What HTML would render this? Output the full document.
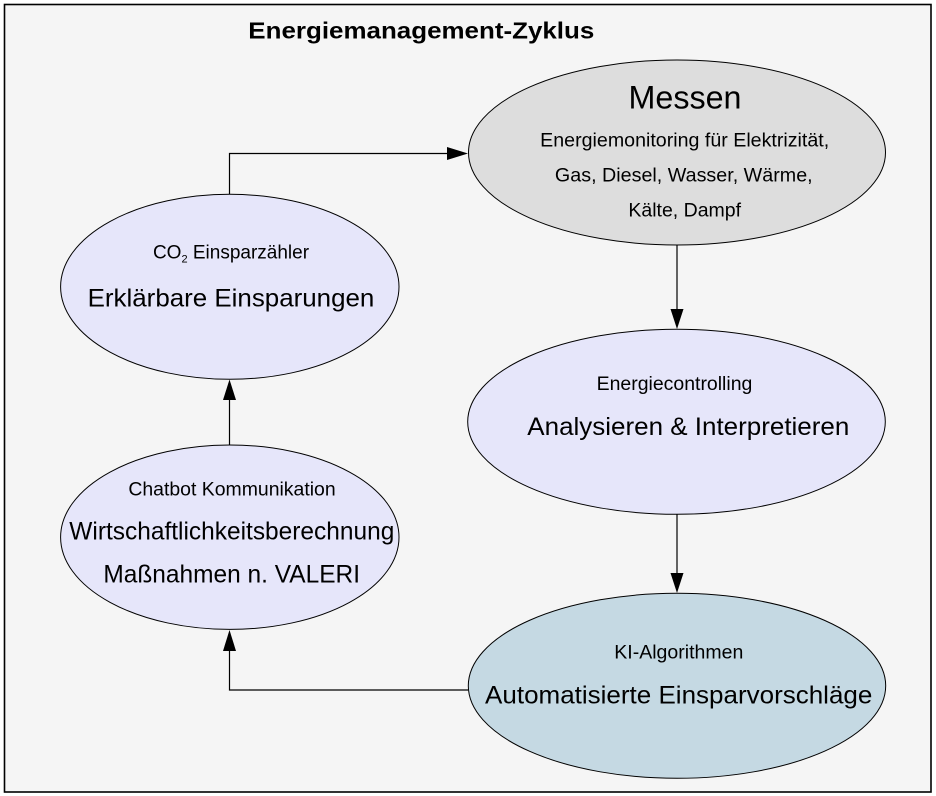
<!DOCTYPE html>
<html>
<head>
<meta charset="utf-8">
<style>
  html, body { margin: 0; padding: 0; background: #ffffff; }
  svg { display: block; }
  text { font-family: "Liberation Sans", Arial, sans-serif; fill: #000; }
</style>
</head>
<body>
<svg width="936" height="796" viewBox="0 0 936 796" xmlns="http://www.w3.org/2000/svg">
  <rect x="0" y="0" width="936" height="796" fill="#ffffff"/>
  <rect x="4.5" y="4.5" width="926.5" height="787.5" fill="#f5f5f5" stroke="#000" stroke-width="1.6"/>

  <!-- Title -->
  <text x="421.3" y="38.3" text-anchor="middle" font-size="23" font-weight="bold" textLength="346" lengthAdjust="spacingAndGlyphs">Energiemanagement-Zyklus</text>

  <!-- Connectors -->
  <g stroke="#000" stroke-width="1.2" fill="none">
    <polyline points="229.5,194 229.5,153.5 449,153.5"/>
    <line x1="677" y1="245" x2="677" y2="310"/>
    <line x1="677" y1="514" x2="677" y2="574"/>
    <polyline points="468,690 229.5,690 229.5,650"/>
    <line x1="229.5" y1="445" x2="229.5" y2="399"/>
  </g>
  <g fill="#000">
    <polygon points="468,153.5 447,147 447,160"/>
    <polygon points="677,329 670.5,309 683.5,309"/>
    <polygon points="677,593 670.5,573 683.5,573"/>
    <polygon points="229.5,630 223,651 236,651"/>
    <polygon points="229.5,379.5 223,400 236,400"/>
  </g>

  <!-- Ellipses -->
  <ellipse cx="677" cy="152.5" rx="208.5" ry="92.5" fill="#dddddd" stroke="#000" stroke-width="1"/>
  <ellipse cx="676.5" cy="421.8" rx="208.8" ry="92.5" fill="#e6e6fa" stroke="#000" stroke-width="1"/>
  <ellipse cx="677" cy="685.8" rx="208.7" ry="92.5" fill="#c5d9e3" stroke="#000" stroke-width="1"/>
  <ellipse cx="229.8" cy="286.8" rx="169.2" ry="92.5" fill="#e6e6fa" stroke="#000" stroke-width="1"/>
  <ellipse cx="229.8" cy="537.2" rx="169.2" ry="92.2" fill="#e6e6fa" stroke="#000" stroke-width="1"/>

  <!-- Messen -->
  <text x="685" y="108.3" text-anchor="middle" font-size="32" textLength="113" lengthAdjust="spacingAndGlyphs">Messen</text>
  <text x="684.7" y="146.7" text-anchor="middle" font-size="19" textLength="289" lengthAdjust="spacingAndGlyphs">Energiemonitoring für Elektrizität,</text>
  <text x="683.8" y="181.7" text-anchor="middle" font-size="19" textLength="257.7" lengthAdjust="spacingAndGlyphs">Gas, Diesel, Wasser, Wärme,</text>
  <text x="684.7" y="216.7" text-anchor="middle" font-size="19" textLength="112.7" lengthAdjust="spacingAndGlyphs">Kälte, Dampf</text>

  <!-- Erklärbare -->
  <text x="231" y="258.3" text-anchor="middle" font-size="19">CO<tspan font-size="11" dy="4">2</tspan><tspan dy="-4"> Einsparzähler</tspan></text>
  <text x="231" y="306.7" text-anchor="middle" font-size="25" textLength="286.7" lengthAdjust="spacingAndGlyphs">Erklärbare Einsparungen</text>

  <!-- Energiecontrolling -->
  <text x="674.5" y="390" text-anchor="middle" font-size="19" textLength="155.7" lengthAdjust="spacingAndGlyphs">Energiecontrolling</text>
  <text x="688.3" y="435" text-anchor="middle" font-size="25" textLength="322" lengthAdjust="spacingAndGlyphs">Analysieren &amp; Interpretieren</text>

  <!-- Chatbot -->
  <text x="232" y="495.7" text-anchor="middle" font-size="19" textLength="207.3" lengthAdjust="spacingAndGlyphs">Chatbot Kommunikation</text>
  <text x="231.8" y="539.3" text-anchor="middle" font-size="25" textLength="325" lengthAdjust="spacingAndGlyphs">Wirtschaftlichkeitsberechnung</text>
  <text x="231.7" y="582.7" text-anchor="middle" font-size="25" textLength="256.7" lengthAdjust="spacingAndGlyphs">Maßnahmen n. VALERI</text>

  <!-- KI -->
  <text x="678.8" y="658.3" text-anchor="middle" font-size="19" textLength="129" lengthAdjust="spacingAndGlyphs">KI-Algorithmen</text>
  <text x="678.7" y="703.3" text-anchor="middle" font-size="25" textLength="387.3" lengthAdjust="spacingAndGlyphs">Automatisierte Einsparvorschläge</text>
</svg>
</body>
</html>
